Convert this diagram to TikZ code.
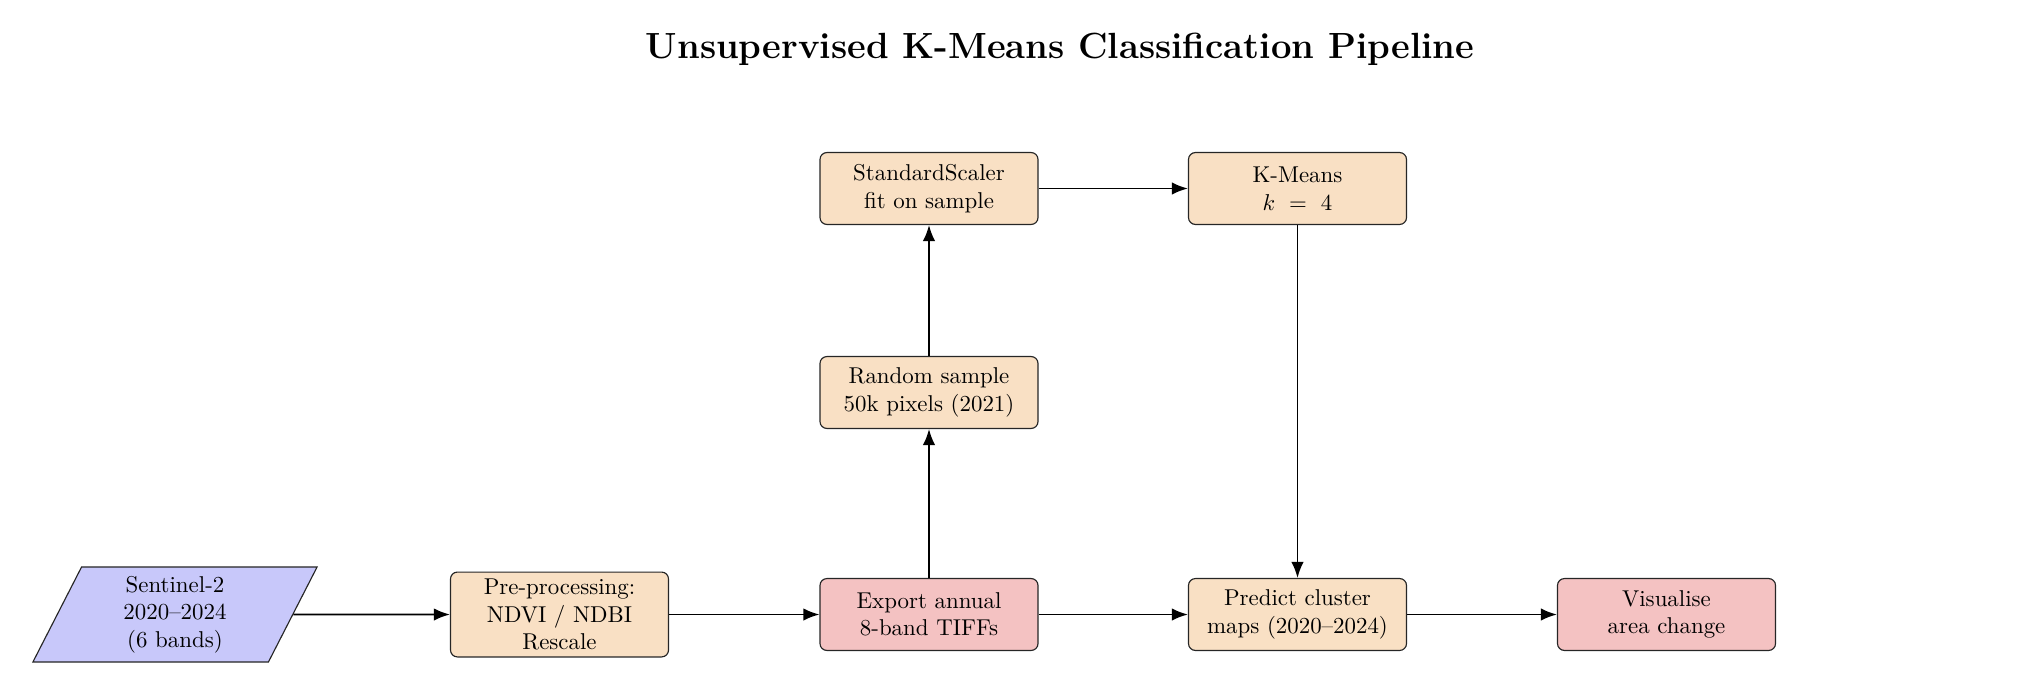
\documentclass[tikz,border=0pt]{standalone}
\usetikzlibrary{arrows.meta,shapes.geometric}
\definecolor{procfill}{RGB}{249,224,196}
\definecolor{outfill}{RGB}{244,194,194}
\definecolor{datafill}{RGB}{200,200,250}
\begin{document}
\begin{tikzpicture}[x=0.4367pt,y=-0.4367pt,
  procbox/.style={draw=black!85, line width=0.5pt, rounded corners=3pt, fill=procfill,
    minimum width=95.2pt, minimum height=31.4pt, inner ysep=3pt, align=center, font=\normalsize},
  outbox/.style={procbox, fill=outfill},
  databox/.style={draw=black!85, line width=0.5pt, fill=datafill, trapezium,
    trapezium left angle=71, trapezium right angle=109, trapezium stretches=true,
    minimum width=124.9pt, minimum height=41.5pt, align=center, inner sep=1pt},
  flow/.style={-{Latex[length=7pt,width=5.4pt]}, line width=0.75pt, black}]
\useasboundingbox (0,0) rectangle (2030,682);
\node[font=\fontsize{15.9pt}{19pt}\selectfont\bfseries] (title) at (1060,49) {Unsupervised K-Means Classification Pipeline};
\node[databox] (sen) at (175,614.5) {Sentinel-2\\2020--2024\\(6 bands)};
\node[procbox] (pre) at (559.5,614.5) {Pre-processing:\\NDVI / NDBI\\Rescale};
\node[outbox] (exp) at (929,614.5) {Export annual\\8-band TIFFs};
\node[procbox] (pred) at (1297.5,614.5) {Predict cluster\\maps (2020--2024)};
\node[outbox] (vis) at (1666.5,614.5) {Visualise\\area change};
\node[procbox] (rand) at (929,392.5) {Random sample\\50k pixels (2021)};
\node[procbox] (std) at (929,188.5) {StandardScaler\\fit on sample};
\node[procbox] (km) at (1297.5,188.5) {K-Means\\$k\ =\ 4$};
\draw[flow] (sen.east) -- (pre.west);
\draw[flow] (pre.east) -- (exp.west);
\draw[flow] (exp.east) -- (pred.west);
\draw[flow] (pred.east) -- (vis.west);
\draw[flow] (exp.north) -- (rand.south);
\draw[flow] (rand.north) -- (std.south);
\draw[flow] (std.east) -- (km.west);
\draw[flow] (km.south) -- (pred.north);
\end{tikzpicture}
\end{document}
